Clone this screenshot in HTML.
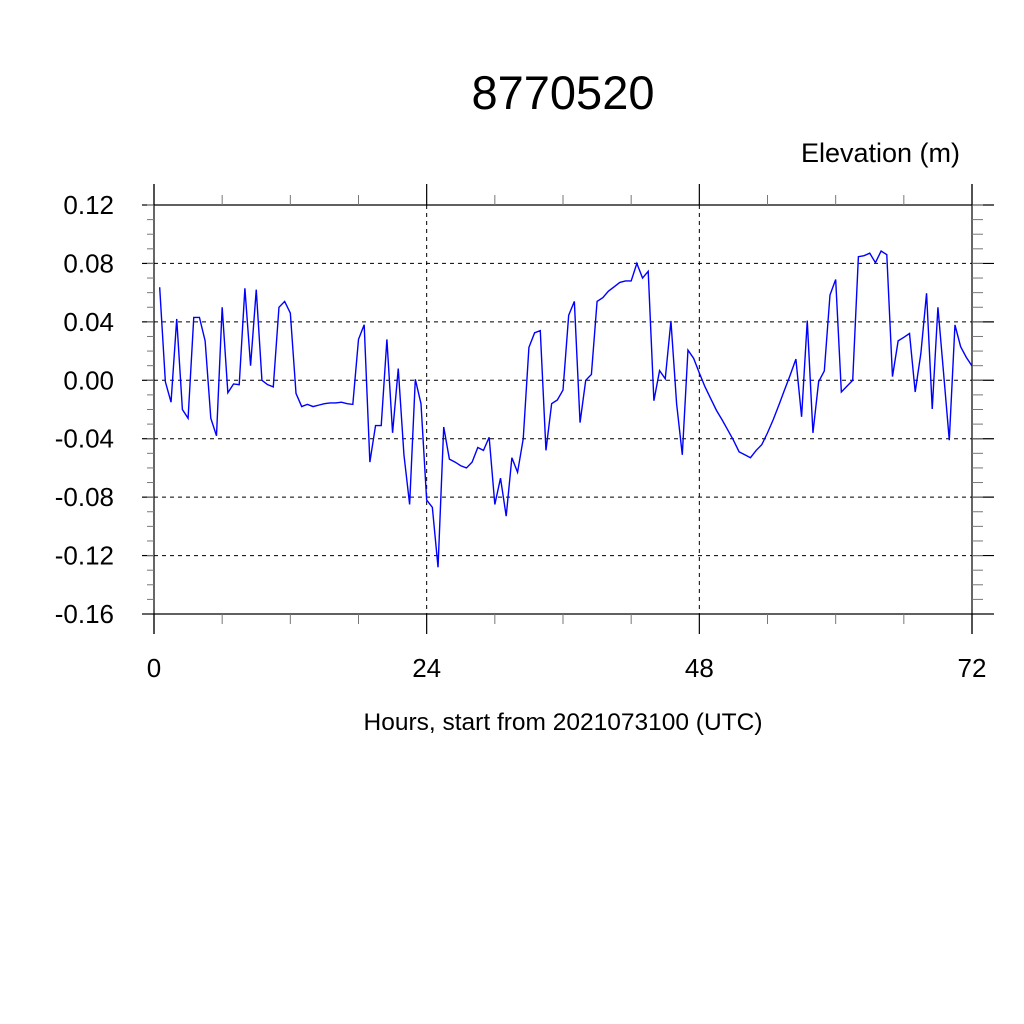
<!DOCTYPE html>
<html><head><meta charset="utf-8"><style>
html,body{margin:0;padding:0;background:#fff;}
svg{display:block;font-family:"Liberation Sans",sans-serif;}
</style></head><body>
<svg id="chart" width="1024" height="1024" viewBox="0 0 1024 1024" xmlns="http://www.w3.org/2000/svg">
<rect width="1024" height="1024" fill="#fff"/>
<text x="563" y="109" font-size="47" text-anchor="middle">8770520</text>
<text x="960" y="162" font-size="27" text-anchor="end">Elevation (m)</text>
<text x="563" y="730" font-size="24.5" text-anchor="middle">Hours, start from 2021073100 (UTC)</text>
<g id="grid"></g>
<g id="axes"></g>
<g id="series"></g>
</svg>
<script>
const yTicks = [0.12,0.08,0.04,0.00,-0.04,-0.08,-0.12,-0.16];
const yTickLabels = ["0.12","0.08","0.04","0.00","-0.04","-0.08","-0.12","-0.16"];
const xTicks = [0,24,48,72];
const xTickLabels = ["0","24","48","72"];
const hours = [];
for (let i = 1; i <= 144; i++) hours.push(i * 0.5);
const elevation = [
0.0637,-0.001,-0.015,0.042,-0.02,-0.026,0.043,0.043,0.027,-0.026,
-0.038,0.05,-0.0085,-0.0025,-0.003,0.063,0.01,0.062,0,-0.003,
-0.0045,0.05,0.054,0.046,-0.009,-0.018,-0.0165,-0.018,-0.017,-0.016,
-0.0155,-0.0155,-0.015,-0.016,-0.0165,0.028,0.038,-0.056,-0.031,-0.031,
0.028,-0.036,0.008,-0.051,-0.085,0.0007,-0.016,-0.082,-0.087,-0.128,
-0.032,-0.054,-0.056,-0.0585,-0.06,-0.056,-0.046,-0.048,-0.039,-0.085,
-0.067,-0.093,-0.053,-0.063,-0.04,0.0225,0.0325,0.034,-0.048,-0.016,
-0.0135,-0.0067,0.0445,0.054,-0.029,0,0.004,0.054,0.0565,0.061,
0.064,0.067,0.068,0.068,0.080,0.070,0.0746,-0.014,0.0066,0.001,
0.0406,-0.016,-0.051,0.0207,0.015,0.005,-0.0045,-0.0125,-0.0205,-0.027,
-0.034,-0.041,-0.049,-0.051,-0.053,-0.048,-0.044,-0.036,-0.027,-0.017,
-0.0066,0.0036,0.0145,-0.025,0.0408,-0.036,-0.001,0.0064,0.0584,0.069,
-0.008,-0.004,0.0,0.0846,0.0853,0.087,0.0805,0.0885,0.086,0.0025,
0.027,0.0294,0.032,-0.008,0.0185,0.0596,-0.0196,0.05,0.0048,-0.041,
0.0379,0.023,0.0157,0.0098
];
const NS = "http://www.w3.org/2000/svg";
const X0 = 154, X1 = 972, Y0 = 205, Y1 = 614;
const xMin = 0, xMax = 72, yMin = -0.16, yMax = 0.12;
function xs(v){ return X0 + (v - xMin) / (xMax - xMin) * (X1 - X0); }
function ys(v){ return Y1 - (v - yMin) / (yMax - yMin) * (Y1 - Y0); }
function mk(tag, attrs, parent){
  const e = document.createElementNS(NS, tag);
  for (const k in attrs) e.setAttribute(k, attrs[k]);
  parent.appendChild(e);
  return e;
}
const grid = document.getElementById('grid');
const axes = document.getElementById('axes');
const series = document.getElementById('series');
yTicks.forEach(function(t){
  if (t === yMax || t === yMin) return;
  const l = mk('line', {x1:X0, x2:X1, y1:ys(t), y2:ys(t), stroke:'#000', 'stroke-width':1, 'stroke-dasharray':'4,4'}, grid);
  
  
});
xTicks.forEach(function(t){
  if (t === xMin || t === xMax) return;
  const l = mk('line', {x1:xs(t), x2:xs(t), y1:Y0, y2:Y1, stroke:'#000', 'stroke-width':1, 'stroke-dasharray':'4,4'}, grid);
  
  
});
mk('line', {x1:X0, x2:X0, y1:184, y2:634, stroke:'#000', 'stroke-width':1.2}, axes);
mk('line', {x1:X1, x2:X1, y1:184, y2:634, stroke:'#000', 'stroke-width':1.2}, axes);
mk('line', {x1:X0, x2:X1, y1:Y0, y2:Y0, stroke:'#000', 'stroke-width':1.2}, axes);
mk('line', {x1:X0, x2:X1, y1:Y1, y2:Y1, stroke:'#000', 'stroke-width':1.2}, axes);
yTicks.forEach(function(t, i){
  const y = ys(t);
  mk('line', {x1:142, x2:X0, y1:y, y2:y, stroke:'#000', 'stroke-width':1.2}, axes);
  mk('line', {x1:X1, x2:994, y1:y, y2:y, stroke:'#000', 'stroke-width':1.2}, axes);
  const tx = mk('text', {x:114, y:y + 9, 'font-size':26, 'text-anchor':'end'}, axes);
  tx.textContent = yTickLabels[i];
  
  
});
for (let v = -0.15; v < 0.12; v += 0.01) {
  const y = ys(v);
  mk('line', {x1:147, x2:X0, y1:y, y2:y, stroke:'#777', 'stroke-width':1}, axes);
  mk('line', {x1:X1, x2:983, y1:y, y2:y, stroke:'#777', 'stroke-width':1}, axes);
}
xTicks.forEach(function(t, i){
  const x = xs(t);
  mk('line', {x1:x, x2:x, y1:Y1, y2:634, stroke:'#000', 'stroke-width':1.2}, axes);
  mk('line', {x1:x, x2:x, y1:184, y2:Y0, stroke:'#000', 'stroke-width':1.2}, axes);
  const tx = mk('text', {x:x, y:677, 'font-size':26, 'text-anchor':'middle'}, axes);
  tx.textContent = xTickLabels[i];
  
  
});
for (let h = 6; h < 72; h += 6) {
  if (h % 24 === 0) continue;
  const x = xs(h);
  mk('line', {x1:x, x2:x, y1:Y1, y2:624, stroke:'#777', 'stroke-width':1}, axes);
  mk('line', {x1:x, x2:x, y1:195, y2:Y0, stroke:'#777', 'stroke-width':1}, axes);
}
const pts = hours.map(function(h, i){ return xs(h).toFixed(2) + ',' + ys(elevation[i]).toFixed(2); }).join(' ');
const pl = mk('polyline', {points:pts, fill:'none', stroke:'#0000ff', 'stroke-width':1.4, 'stroke-linejoin':'miter'}, series);


</script>
</body></html>
